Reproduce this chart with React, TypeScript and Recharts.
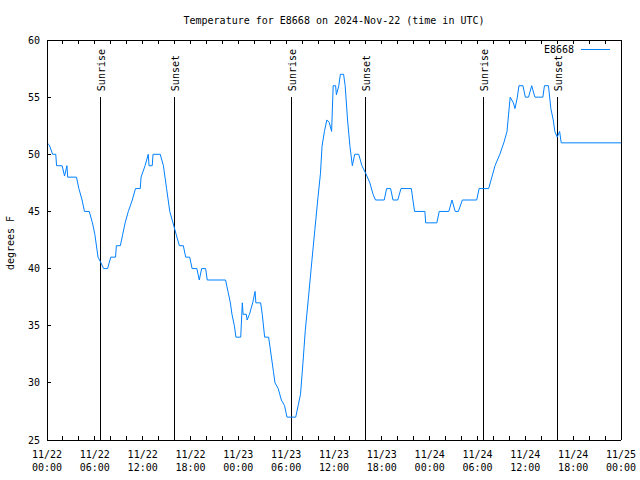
import {
  LineChart,
  Line,
  XAxis,
  YAxis,
  ReferenceLine,
  ReferenceDot,
  Legend,
} from "recharts";

const hours = [
  0, 0.3, 0.7, 1.1, 1.2, 1.9, 2.2, 2.5, 2.6, 3.7, 4.0, 4.4, 4.7, 5.3, 5.7, 6.0,
  6.4, 6.7, 7.1, 7.6, 8.0, 8.6, 8.7, 9.2, 9.5, 9.8, 10.2, 10.7, 11.1, 11.7,
  11.8, 12.3, 12.7, 12.8, 13.2, 13.3, 14.2, 14.6, 15.0, 15.4, 15.8, 16.2, 16.6,
  17.1, 17.4, 17.9, 18.2, 18.8, 19.1, 19.4, 19.9, 20.1, 22.4, 22.7, 23.0, 23.2,
  23.5, 23.7, 24.3, 24.5, 24.6, 25.0, 25.1, 25.4, 25.8, 26.1, 26.2, 26.8, 27.0,
  27.3, 27.8, 28.2, 28.4, 28.6, 29.0, 29.4, 29.8, 30.1, 31.2, 31.5, 31.8, 32.1,
  32.4, 32.8, 33.2, 33.6, 34.0, 34.3, 34.5, 34.8, 35.1, 35.4, 35.7, 35.9, 36.2,
  36.3, 36.6, 36.8, 37.2, 37.4, 37.7, 38.0, 38.3, 38.6, 39.1, 39.5, 40.0, 40.5,
  40.9, 41.2, 42.3, 42.6, 43.1, 43.4, 44.0, 44.4, 45.7, 46.1, 47.4, 47.5, 48.9,
  49.2, 50.4, 50.8, 51.2, 51.6, 52.1, 53.9, 54.2, 55.4, 55.8, 56.2, 56.8, 57.3,
  57.7, 58.1, 58.5, 58.7, 59.0, 59.2, 59.7, 60.0, 60.4, 60.8, 61.2, 62.2, 62.4,
  62.9, 63.2, 63.5, 63.7, 64.0, 64.3, 64.5, 72,
];

const temps = [
  51, 50.8, 50, 50, 49, 49, 48.1, 49, 48, 48, 47, 46, 45, 45, 44, 43, 41, 40.6,
  40, 40, 41, 41, 42, 42, 43, 44, 45, 46, 47, 47, 48, 49, 50, 49, 49, 50, 50,
  49, 47, 45, 44, 43, 42, 42, 41, 41, 40, 40, 39, 40, 40, 39, 39, 38, 37, 36,
  35, 34, 34, 37, 36, 36, 35.5, 36, 37, 38, 37, 37, 36, 34, 34, 32, 31, 30,
  29.5, 28.5, 28, 27, 27, 28, 29, 31.7, 34.6, 37.5, 40.5, 43.4, 46.3, 48.3,
  50.7, 52, 53, 52.8, 52, 56, 56, 55.2, 56, 57, 57, 56, 53, 50.7, 49, 50, 50,
  49, 48.3, 47.5, 46.5, 46, 46, 47, 47, 46, 46, 47, 47, 45, 45, 44, 44, 45, 45,
  46, 45, 45, 46, 46, 47, 47, 48, 49, 50, 51, 52, 55, 54.5, 54, 55, 56, 56, 55,
  55, 56, 55, 55, 56, 56, 54, 53, 52, 51.5, 52, 51, 51,
];

const sunEvents = [6.65, 15.97, 30.65, 39.93, 54.73, 64.0];
const sunLabels = ["Sunrise", "Sunset", "Sunrise", "Sunset", "Sunrise", "Sunset"];

const xTicks = Array.from({ length: 37 }, (_, i) => i * 2);
const xLabels = [
  "11/22", "11/22", "11/22", "11/22", "11/23", "11/23", "11/23",
  "11/23", "11/24", "11/24", "11/24", "11/24", "11/25",
];
const xTimes = ["00:00", "06:00", "12:00", "18:00"];
const yTicks = [25, 30, 35, 40, 45, 50, 55, 60];

const font = "'DejaVu Sans Mono', monospace";
const TICK = 4;

const data = hours.map((h, i) => ({ h, temp: temps[i] }));

function BottomTick({ x, y, payload }: any) {
  const v = payload.value;
  const major = v % 6 === 0;
  return (
    <g>
      <line x1={x} y1={y} x2={x} y2={y - TICK} stroke="#000" shapeRendering="crispEdges" />
      {major && (
        <text x={x} y={y + 18} textAnchor="middle" fontSize={10} fontFamily={font} fill="#000">
          {xLabels[v / 6]}
        </text>
      )}
      {major && (
        <text x={x} y={y + 31} textAnchor="middle" fontSize={10} fontFamily={font} fill="#000">
          {xTimes[(v / 6) % 4]}
        </text>
      )}
    </g>
  );
}

function TopTick({ x, y }: any) {
  return <line x1={x} y1={y} x2={x} y2={y + TICK} stroke="#000" shapeRendering="crispEdges" />;
}

function LeftTick({ x, y, payload }: any) {
  return (
    <g>
      <line x1={x} y1={y} x2={x + TICK} y2={y} stroke="#000" shapeRendering="crispEdges" />
      <text x={x - 7} y={y} dy="0.35em" textAnchor="end" fontSize={10} fontFamily={font} fill="#000">
        {payload.value}
      </text>
    </g>
  );
}

function RightTick({ x, y }: any) {
  return <line x1={x} y1={y} x2={x - TICK} y2={y} stroke="#000" shapeRendering="crispEdges" />;
}

function SunLabel({ cx, cy, text }: any) {
  const ax = cx + 1.5;
  const ay = cy - 6;
  return (
    <text
      x={ax}
      y={ay}
      dy="0.35em"
      transform={`rotate(-90, ${ax}, ${ay})`}
      fontSize={10}
      fontFamily={font}
      fill="#000"
    >
      {text}
    </text>
  );
}

function LegendBox() {
  return (
    <div style={{ display: "flex", justifyContent: "flex-end", alignItems: "center", height: 12 }}>
      <span style={{ font: `10px/12px ${font}`, color: "#000" }}>E8668</span>
      <svg width={29} height={12} style={{ marginLeft: 7, display: "block" }}>
        <line x1={0} y1={5.5} x2={29} y2={5.5} stroke="#0080ff" />
      </svg>
    </div>
  );
}

const axisLine = { stroke: "#000", shapeRendering: "crispEdges" };

export default function App() {
  return (
    <div style={{ position: "absolute", left: 0, top: 0, width: 640, height: 480, background: "#fff" }}>
      <LineChart
        width={640}
        height={480}
        data={data}
        margin={{ top: 39, right: 18, bottom: 0, left: 0 }}
      >
        <XAxis
          xAxisId="b"
          dataKey="h"
          type="number"
          domain={[0, 72]}
          ticks={xTicks}
          interval={0}
          height={40}
          tickSize={0}
          tickMargin={0}
          tickLine={false}
          axisLine={axisLine}
          tick={<BottomTick />}
        />
        <XAxis
          xAxisId="t"
          orientation="top"
          dataKey="h"
          type="number"
          domain={[0, 72]}
          ticks={xTicks}
          interval={0}
          height={1}
          tickSize={0}
          tickMargin={0}
          tickLine={false}
          axisLine={axisLine}
          tick={<TopTick />}
          label={{
            value: "Temperature for E8668 on 2024-Nov-22 (time in UTC)",
            position: "top",
            offset: 15,
            fontSize: 10,
            fontFamily: font,
            fill: "#000",
          }}
        />
        <YAxis
          yAxisId="l"
          type="number"
          domain={[25, 60]}
          ticks={yTicks}
          interval={0}
          width={47}
          tickSize={0}
          tickMargin={0}
          tickLine={false}
          axisLine={axisLine}
          tick={<LeftTick />}
          label={{
            content: () => (
              <text
                x={10}
                y={243}
                dy="0.35em"
                textAnchor="middle"
                transform="rotate(-90, 10, 243)"
                fontSize={10}
                fontFamily={font}
                fill="#000"
              >
                degrees F
              </text>
            ),
          }}
        />
        <YAxis
          yAxisId="r"
          orientation="right"
          type="number"
          domain={[25, 60]}
          ticks={yTicks}
          interval={0}
          width={1}
          tickSize={0}
          tickMargin={0}
          tickLine={false}
          axisLine={axisLine}
          tick={<RightTick />}
        />
        {sunEvents.map((t, i) => (
          <ReferenceLine
            key={`l${i}`}
            xAxisId="b"
            yAxisId="l"
            segment={[{ x: t, y: 25 }, { x: t, y: 55 }]}
            stroke="#000"
            shapeRendering="crispEdges"
          />
        ))}
        {sunEvents.map((t, i) => (
          <ReferenceDot
            key={`d${i}`}
            xAxisId="b"
            yAxisId="l"
            x={t}
            y={55}
            r={0}
            shape={(p: any) => <SunLabel cx={p.cx} cy={p.cy} text={sunLabels[i]} />}
          />
        ))}
        <Line
          xAxisId="b"
          yAxisId="l"
          dataKey="temp"
          type="linear"
          stroke="#0080ff"
          strokeWidth={1}
          dot={false}
          isAnimationActive={false}
        />
        <Legend
          layout="vertical"
          align="center"
          verticalAlign="middle"
          content={<LegendBox />}
          wrapperStyle={{ position: "absolute", top: 44, left: 540, width: 70, height: 12 }}
        />
      </LineChart>
    </div>
  );
}
